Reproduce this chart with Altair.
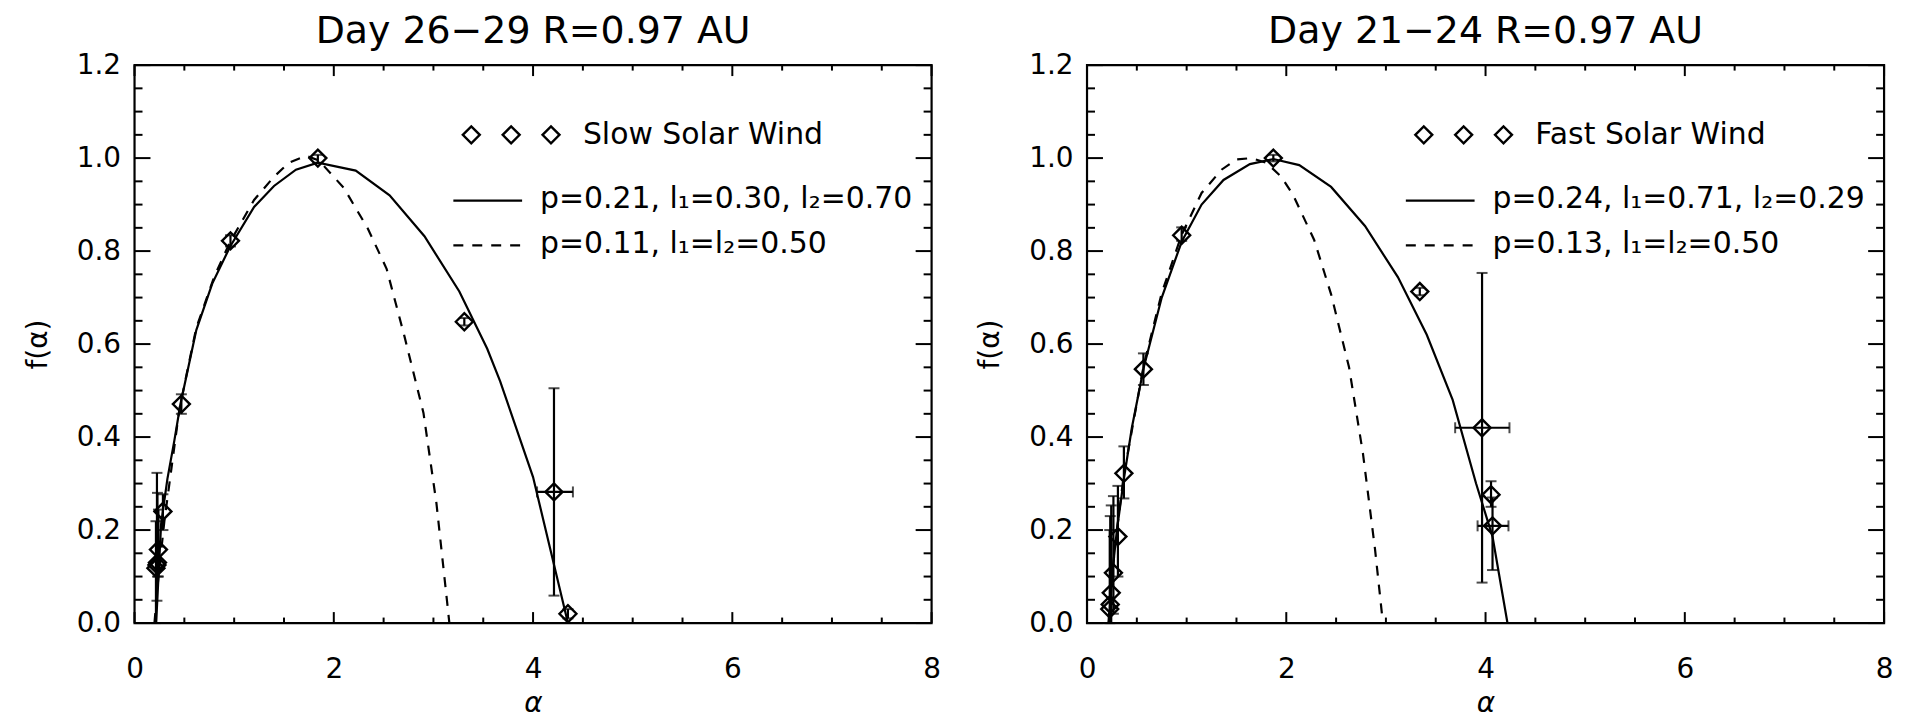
import altair as alt
import pandas as pd

# ---------------- data ----------------
# Left panel: Day 26-29, slow solar wind
slow_alpha    = [0.215, 0.225, 0.23, 0.24, 0.285, 0.47, 0.963, 1.84, 3.31, 4.21, 4.35]
slow_f        = [0.118, 0.125, 0.13, 0.158, 0.24, 0.471, 0.822, 1.0, 0.648, 0.282, 0.02]
slow_f_lo     = [0.0, 0.048, 0.10, 0.10, 0.20, 0.45, 0.81, 0.99, 0.64, 0.059, 0.01]
slow_f_hi     = [0.219, 0.323, 0.28, 0.244, 0.277, 0.492, 0.834, 1.007, 0.656, 0.505, 0.03]
slow_alpha_lo = [0.215, 0.225, 0.23, 0.24, 0.285, 0.47, 0.963, 1.84, 3.31, 4.04, 4.35]
slow_alpha_hi = [0.215, 0.225, 0.23, 0.24, 0.285, 0.47, 0.963, 1.84, 3.31, 4.40, 4.35]

slow_pmodel_alpha = [0.217, 0.267, 0.33, 0.40, 0.46, 0.62, 0.78, 0.96, 1.20, 1.40, 1.62, 1.84,
                     2.22, 2.56, 2.91, 3.26, 3.54, 3.67, 4.00, 4.35]
slow_pmodel_f     = [0.0, 0.214, 0.31, 0.393, 0.47, 0.63, 0.73, 0.81, 0.895, 0.94, 0.975, 0.99,
                     0.973, 0.92, 0.832, 0.713, 0.59, 0.52, 0.314, 0.0]
slow_binom_alpha  = [0.20, 0.24, 0.30, 0.45, 0.62, 0.80, 0.96, 1.20, 1.40, 1.55, 1.72, 1.85,
                     2.10, 2.34, 2.53, 2.71, 2.90, 3.03, 3.14, 3.16]
slow_binom_f      = [0.0, 0.10, 0.22, 0.46, 0.635, 0.745, 0.82, 0.91, 0.96, 0.99, 1.005, 0.995,
                     0.936, 0.849, 0.762, 0.616, 0.452, 0.258, 0.04, 0.0]

# Right panel: Day 21-24, fast solar wind
fast_alpha    = [0.228, 0.233, 0.243, 0.265, 0.31, 0.37, 0.566, 0.95, 1.87, 3.34, 3.965, 4.055, 4.07]
fast_f        = [0.03, 0.04, 0.065, 0.108, 0.186, 0.322, 0.546, 0.834, 1.0, 0.713, 0.42, 0.276, 0.209]
fast_f_lo     = [0.0, 0.0, 0.0, 0.02, 0.10, 0.268, 0.512, 0.822, 0.993, 0.705, 0.087, 0.25, 0.114]
fast_f_hi     = [0.20, 0.23, 0.253, 0.273, 0.295, 0.38, 0.58, 0.851, 1.007, 0.721, 0.753, 0.305, 0.27]
fast_alpha_lo = [0.228, 0.233, 0.243, 0.265, 0.31, 0.37, 0.566, 0.95, 1.87, 3.34, 3.695, 4.055, 3.92]
fast_alpha_hi = [0.228, 0.233, 0.243, 0.265, 0.31, 0.37, 0.566, 0.95, 1.87, 3.34, 4.24, 4.055, 4.23]

fast_pmodel_alpha = [0.22, 0.235, 0.26, 0.30, 0.37, 0.45, 0.57, 0.75, 0.95, 1.15, 1.37, 1.635, 1.87,
                     2.13, 2.45, 2.79, 3.12, 3.41, 3.67, 3.905, 4.07, 4.22]
fast_pmodel_f     = [0.0, 0.05, 0.12, 0.20, 0.31, 0.42, 0.55, 0.70, 0.82, 0.90, 0.953, 0.987, 0.998,
                     0.985, 0.938, 0.854, 0.744, 0.62, 0.48, 0.30, 0.186, 0.0]
fast_binom_alpha  = [0.215, 0.25, 0.30, 0.37, 0.57, 0.75, 0.95, 1.15, 1.35, 1.50, 1.65, 1.80, 1.95,
                     2.07, 2.28, 2.45, 2.63, 2.77, 2.89, 2.97]
fast_binom_f      = [0.0, 0.10, 0.20, 0.32, 0.555, 0.71, 0.835, 0.925, 0.975, 0.997, 1.0, 0.99, 0.96,
                     0.92, 0.824, 0.707, 0.55, 0.364, 0.16, 0.0]

slow_labels = ["Slow Solar Wind", "p=0.21, l\u2081=0.30, l\u2082=0.70", "p=0.11, l\u2081=l\u2082=0.50"]
fast_labels = ["Fast Solar Wind", "p=0.24, l\u2081=0.71, l\u2082=0.29", "p=0.13, l\u2081=l\u2082=0.50"]

slow_title = "Day 26\u221229 R=0.97 AU"
fast_title = "Day 21\u221224 R=0.97 AU"

x_major_ticks = [0, 2, 4, 6, 8]
x_minor_ticks = [0.5, 1, 1.5, 2.5, 3, 3.5, 4.5, 5, 5.5, 6.5, 7, 7.5]
y_major_ticks = [0.0, 0.2, 0.4, 0.6, 0.8, 1.0, 1.2]
y_minor_ticks = [0.05, 0.1, 0.15, 0.25, 0.3, 0.35, 0.45, 0.5, 0.55, 0.65, 0.7, 0.75,
                 0.85, 0.9, 0.95, 1.05, 1.1, 1.15]

# ---------------- styling ----------------
W, H = 800, 560
FONT = "DejaVu Sans"
XT = "\u03b1"
YT = "f(\u03b1)"
DASH = [10, 9]
LW = 2.2


def panel(title, a, f, flo, fhi, alo, ahi, pa, pf, ba, bf, labels):
    xs = alt.Scale(domain=[0, 8], nice=False, zero=False)
    ys = alt.Scale(domain=[0, 1.2], nice=False, zero=False)
    xaxis = alt.Axis(values=x_major_ticks, format="d", ticks=False, tickSize=0, domain=False,
                     grid=False, labelFontSize=28, labelPadding=33, labelFlush=False,
                     titleFontSize=28, titleFontStyle="italic", titlePadding=6,
                     titleFontWeight="normal")
    yaxis = alt.Axis(values=y_major_ticks, format=".1f", ticks=False, tickSize=0, domain=False,
                     grid=False, labelFontSize=28, labelPadding=14, labelFlush=False,
                     titleFontSize=28, titlePadding=24, titleFontWeight="normal")

    pts = pd.DataFrame({"a": a, "f": f, "flo": flo, "fhi": fhi, "alo": alo, "ahi": ahi})
    solid = pd.DataFrame({"a": pa, "f": pf})
    dashed = pd.DataFrame({"a": ba, "f": bf})

    X = lambda fld: alt.X(fld, type="quantitative", scale=xs, title=XT)
    Y = lambda fld: alt.Y(fld, type="quantitative", scale=ys, title=YT)

    layers = []
    layers.append(alt.Chart(solid).mark_line(color="black", strokeWidth=LW).encode(
        x=alt.X("a:Q", scale=xs, axis=xaxis, title=XT),
        y=alt.Y("f:Q", scale=ys, axis=yaxis, title=YT)))
    layers.append(alt.Chart(dashed).mark_line(color="black", strokeWidth=LW, strokeDash=DASH).encode(
        x=X("a"), y=Y("f")))
    # vertical error bars + caps
    layers.append(alt.Chart(pts).mark_rule(color="black", strokeWidth=LW).encode(
        x=X("a"), y=Y("flo"), y2="fhi:Q"))
    for fld in ["flo", "fhi"]:
        layers.append(alt.Chart(pts).mark_tick(color="black", orient="horizontal", size=11,
                                               thickness=2).encode(x=X("a"), y=Y(fld)))
    # horizontal error bars + caps
    hb = alt.Chart(pts).transform_filter("datum.ahi - datum.alo > 0.01")
    layers.append(hb.mark_rule(color="black", strokeWidth=LW).encode(
        x=X("alo"), x2="ahi:Q", y=Y("f")))
    for fld in ["alo", "ahi"]:
        layers.append(hb.mark_tick(color="black", orient="vertical", size=11,
                                   thickness=2).encode(x=X(fld), y=Y("f")))
    # diamonds
    layers.append(alt.Chart(pts).mark_point(shape="diamond", filled=False, size=290, strokeWidth=2.4,
                                            color="black", opacity=1).encode(x=X("a"), y=Y("f")))
    # inward ticks on four sides
    for vals, ln in [(x_major_ticks, 11), (x_minor_ticks, 5.5)]:
        d = pd.DataFrame({"v": vals})
        layers.append(alt.Chart(d).mark_rule(color="black", strokeWidth=2).encode(
            x=X("v"), y=alt.value(H), y2=alt.value(H - ln)))
        layers.append(alt.Chart(d).mark_rule(color="black", strokeWidth=2).encode(
            x=X("v"), y=alt.value(0), y2=alt.value(ln)))
    for vals, ln in [(y_major_ticks, 16), (y_minor_ticks, 8)]:
        d = pd.DataFrame({"v": vals})
        layers.append(alt.Chart(d).mark_rule(color="black", strokeWidth=2).encode(
            y=Y("v"), x=alt.value(0), x2=alt.value(ln)))
        layers.append(alt.Chart(d).mark_rule(color="black", strokeWidth=2).encode(
            y=Y("v"), x=alt.value(W), x2=alt.value(W - ln)))
    # legend
    one = pd.DataFrame({"k": [0]})
    for px in [338, 378, 418]:
        layers.append(alt.Chart(one).mark_point(shape="diamond", filled=False, size=290,
                                                strokeWidth=2.4, color="black", opacity=1).encode(
            x=alt.value(px), y=alt.value(70)))
    layers.append(alt.Chart(one).mark_rule(color="black", strokeWidth=LW).encode(
        x=alt.value(320), x2=alt.value(389), y=alt.value(136)))
    layers.append(alt.Chart(one).mark_rule(color="black", strokeWidth=LW, strokeDash=DASH).encode(
        x=alt.value(320), x2=alt.value(389), y=alt.value(181)))
    for (px, py), lab in zip([(450, 70), (407, 134), (407, 180)], labels):
        layers.append(alt.Chart(one).mark_text(align="left", baseline="middle", fontSize=30,
                                               font=FONT, color="black", text=lab).encode(
            x=alt.value(px), y=alt.value(py)))

    return alt.layer(*layers).properties(
        width=W, height=H,
        title=alt.TitleParams(text=title, fontSize=38, font=FONT, fontWeight="normal",
                              color="black", anchor="middle", offset=0))


left = panel(slow_title, slow_alpha, slow_f, slow_f_lo, slow_f_hi, slow_alpha_lo, slow_alpha_hi,
             slow_pmodel_alpha, slow_pmodel_f, slow_binom_alpha, slow_binom_f, slow_labels)
right = panel(fast_title, fast_alpha, fast_f, fast_f_lo, fast_f_hi, fast_alpha_lo, fast_alpha_hi,
              fast_pmodel_alpha, fast_pmodel_f, fast_binom_alpha, fast_binom_f, fast_labels)

chart = alt.hconcat(left, right, spacing=156, bounds="flush").properties(
    padding={"left": 15, "top": 2, "right": 10, "bottom": 0},
    background="white",
).configure_view(stroke="black", strokeWidth=2.2).configure_axis(
    labelFont=FONT, titleFont=FONT, labelColor="black", titleColor="black"
)

chart.save("out.html", embed_options={"renderer": "svg", "actions": False})
